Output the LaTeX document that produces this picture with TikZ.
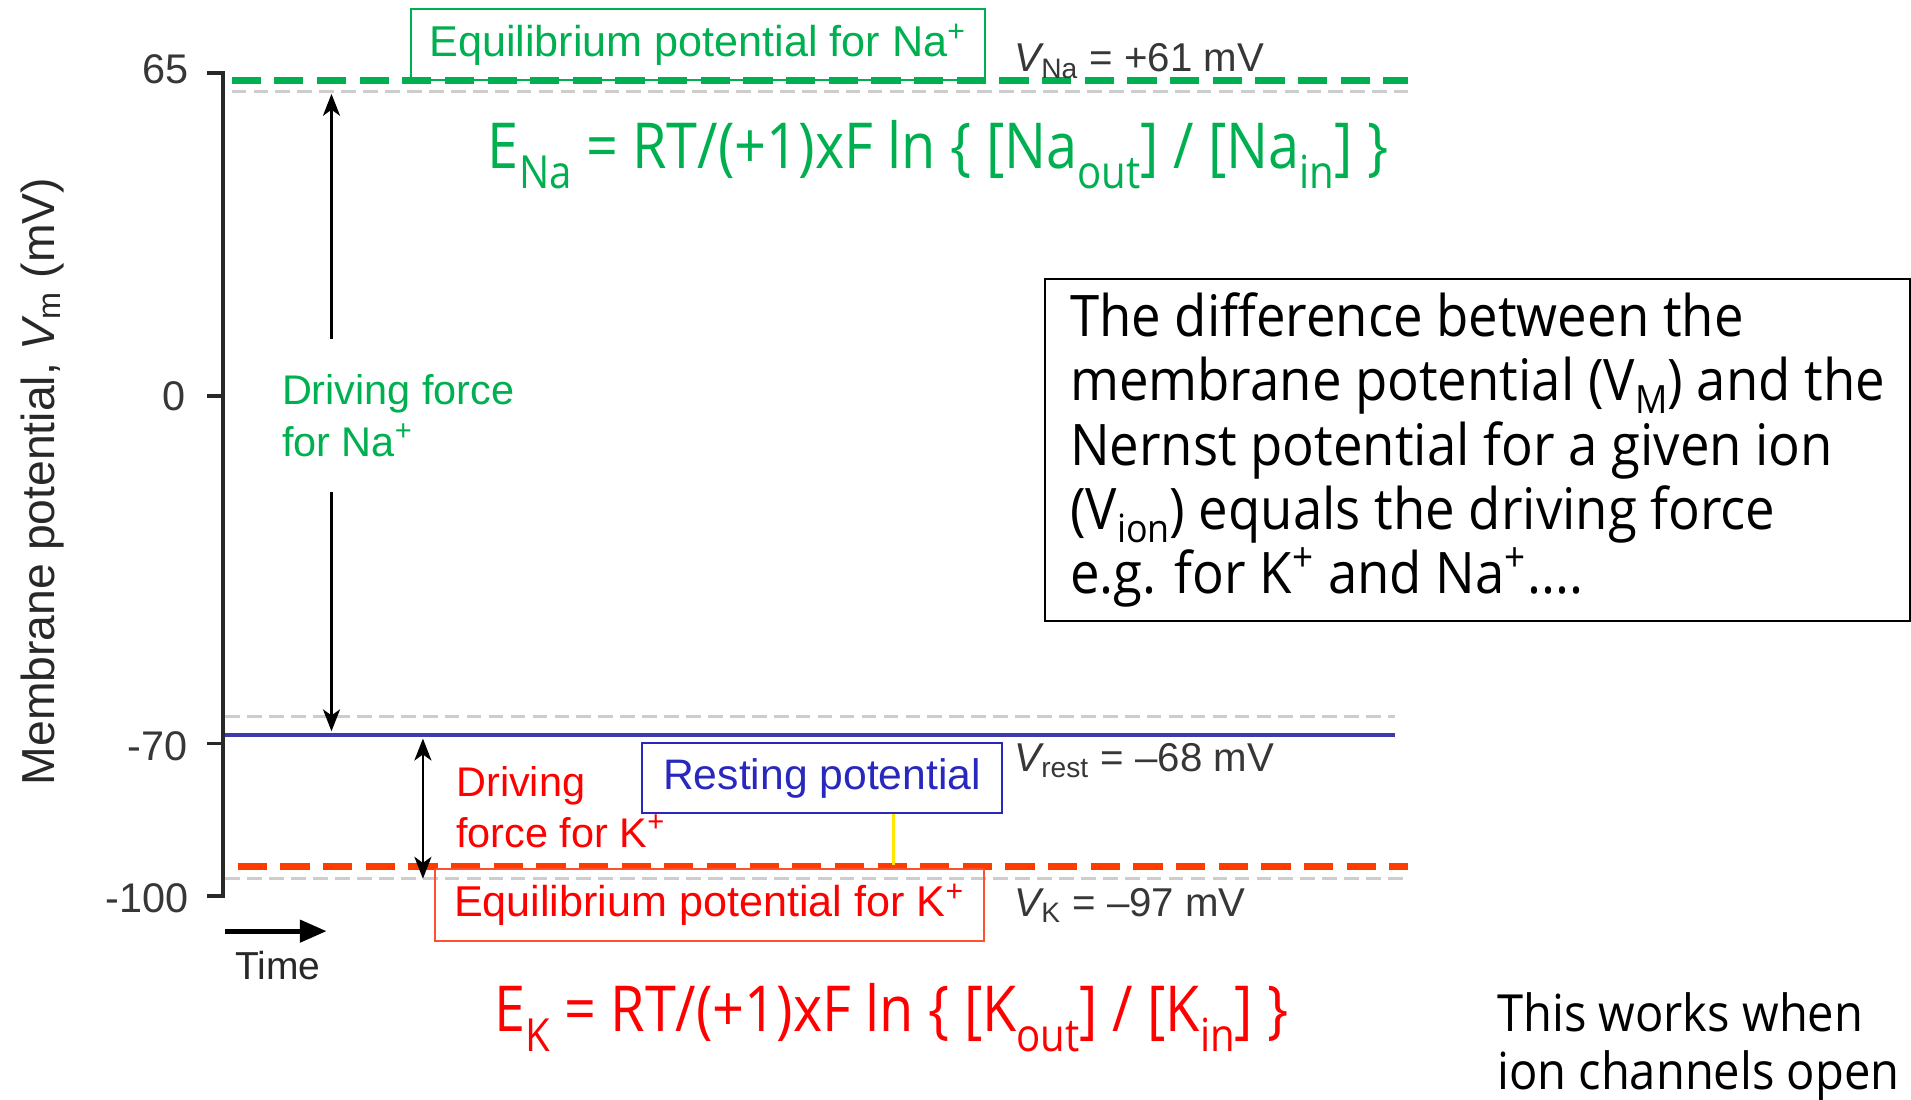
\documentclass[tikz,border=0pt]{standalone}
\usepackage{fontspec}
\usepackage{graphicx}
\setmainfont{Liberation Sans}
\newfontfamily\comic[FakeStretch=0.92]{Open Sans}
\newfontfamily\comiceq[FakeStretch=0.88]{Open Sans}
\usetikzlibrary{arrows.meta}
\definecolor{eqgreen}{RGB}{0,176,80}
\definecolor{kred}{RGB}{255,0,0}
\definecolor{kdash}{RGB}{255,60,0}
\definecolor{kbox}{RGB}{255,80,50}
\definecolor{restblue}{RGB}{40,40,190}
\definecolor{lineblue}{RGB}{60,60,170}
\definecolor{axgray}{RGB}{40,40,40}
\definecolor{labgray}{RGB}{55,55,55}
\definecolor{dashgray}{RGB}{205,205,205}
\newcommand{\sbs}[1]{\raisebox{-0.32em}{\scalebox{0.72}{#1}}}
\newcommand{\sbt}[1]{\smash{\raisebox{-0.22em}{\scalebox{0.68}{#1}}}}
\newcommand{\sps}[1]{\textsuperscript{#1}}
\tikzset{
  arial/.style={font=\fontsize{17}{21}\selectfont},
  ticklab/.style={font=\fontsize{17}{20}\selectfont, text=labgray, anchor=east, inner sep=0pt},
  vlab/.style={font=\fontsize{16.5}{20}\selectfont, text=labgray, anchor=west, inner sep=0pt},
  tagbox/.style={draw, line width=0.8pt, inner sep=0pt, font=\fontsize{17.7}{20}\selectfont},
  comictext/.style={font=\comic\fontsize{23.5}{26.4}\selectfont, align=left, inner sep=0pt},
  eqtext/.style={font=\comiceq\fontsize{26}{30}\selectfont, inner sep=0pt, anchor=base west},
  levdash/.style={line width=3pt, dash pattern=on 12pt off 5.5pt},
  greydash/.style={dashgray, line width=1.2pt, dash pattern=on 6pt off 3pt},
  dfarrow/.style={line width=1pt, -{Stealth[length=9pt,width=7pt,inset=2.5pt]}},
  dfarrows/.style={line width=1pt, {Stealth[length=9pt,width=7pt,inset=2.5pt]}-{Stealth[length=9pt,width=7pt,inset=2.5pt]}},
}
\begin{document}
\begin{tikzpicture}[x=0.5pt,y=-0.5pt]
\useasboundingbox[fill=white] (0,0) rectangle (1568,902);

% ---- axis ----
\coordinate (axtop) at (183,60);
\coordinate (axbot) at (183,735);
\draw[axgray, line width=1.5pt, line join=miter] (170,60) -- (axtop) -- (axbot) -- (170,735);
\draw[axgray, line width=1.5pt] (170,325) -- (183,325);
\draw[axgray, line width=1.5pt] (170,610) -- (183,610);
\node[ticklab] (t65) at (155,57) {65};
\node[ticklab] (t0) at (153,325) {0};
\node[ticklab] (t70) at (154,612) {-70};
\node[ticklab] (t100) at (155,737) {-100};
\node[rotate=90, text=axgray, font=\fontsize{19}{22}\selectfont, inner sep=0pt] (ylab) at (35,395)
  {Membrane potential, {\itshape V}\textsubscript{m} (mV)};

% ---- time ----
\coordinate (tA) at (185,764);
\coordinate (tB) at (268,764);
\draw[black, line width=2pt, -{Triangle[length=11pt,width=9pt]}] (tA) -- (tB);
\node[text=axgray, font=\fontsize{16}{19}\selectfont, inner sep=0pt] (time) at (228,792) {Time};

% ---- level lines ----
\draw[greydash] (190,75) -- (1155,75);
\draw[greydash] (185,588) -- (1145,588);
\draw[greydash] (185,721) -- (1155,721);
\coordinate (naL) at (190,66);
\coordinate (naR) at (1155,66);
\draw[eqgreen, levdash] (naL) -- (naR);
\coordinate (restL) at (185,603);
\coordinate (restR) at (1145,603);
\draw[lineblue, line width=1.4pt] (restL) -- (restR);
\coordinate (kL) at (195,711);
\coordinate (kR) at (1155,711);
\draw[kdash, levdash] (kL) -- (kR);

% ---- driving force for Na ----
\node[arial, text=eqgreen, align=left, anchor=west, inner sep=0pt] (dfna) at (231,341)
  {Driving force\\for Na\sps{+}};
\coordinate (naArrTop) at (272,77);
\coordinate (naArrBot) at (272,600);
\coordinate (naGapTop) at (272,278);
\coordinate (naGapBot) at (272,404);
\draw[dfarrow] (naGapTop) -- (naArrTop);
\draw[dfarrow] (naGapBot) -- (naArrBot);

% ---- driving force for K ----
\coordinate (kArrTop) at (347,606);
\coordinate (kArrBot) at (347,721);
\draw[dfarrows] (kArrTop) -- (kArrBot);
\node[arial, text=kred, align=left, anchor=west, inner sep=0pt] (dfk) at (374,662)
  {Driving\\force for K\sps{+}};

% ---- boxes ----
\node[tagbox, draw=eqgreen, text=eqgreen, minimum width=235.5pt, minimum height=29.5pt] (naeq) at (572.5,36.5)
  {Equilibrium potential for Na\sps{+}};
\node[tagbox, draw=restblue, text=restblue, minimum width=147.5pt, minimum height=28.5pt,
  font=\fontsize{17.5}{20}\selectfont] (rest) at (674.5,638.5) {Resting potential};
\node[tagbox, draw=kbox, text=kred, minimum width=225pt, minimum height=29.5pt] (keq) at (582,742.5)
  {Equilibrium potential for K\sps{+}};
\coordinate (yelTop) at (733,668);
\coordinate (yelBot) at (733,710);
\draw[yellow!90!orange, line width=1.2pt] (yelTop) -- (yelBot);

% ---- value labels ----
\node[vlab] (vna) at (832,50) {{\itshape V}\textsubscript{Na} = +61 mV};
\node[vlab] (vrest) at (832,624) {{\itshape V}\textsubscript{rest} = --68 mV};
\node[vlab] (vk) at (832,743) {{\itshape V}\textsubscript{K} = --97 mV};

% ---- equations ----
\node[eqtext, text=eqgreen] (ena) at (400,138)
  {E\sbs{Na} = RT/(+1)xF ln \{ [Na\sbs{out}] / [Na\sbs{in}] \}};
\node[eqtext, text=kred] (ek) at (405,846)
  {E\sbs{K} = RT/(+1)xF ln \{ [K\sbs{out}] / [K\sbs{in}] \}};

% ---- explanation box ----
\node[draw=black, line width=0.8pt, anchor=north west, minimum width=354.5pt, minimum height=140.5pt,
  inner xsep=9pt, inner ysep=0pt, comictext] (expl) at (857,228)
  {The difference between the\\
   membrane potential (V\sbt{M}) and the\\
   Nernst potential for a given ion\\
   (V\sbt{ion}) equals the driving force\\
   e.g. for K\sps{+} and Na\sps{+}....};

\node[comictext, font=\comic\fontsize{21}{24}\selectfont, anchor=north west] (works) at (1228,814)
  {This works when\\ion channels open};
\end{tikzpicture}
\end{document}
